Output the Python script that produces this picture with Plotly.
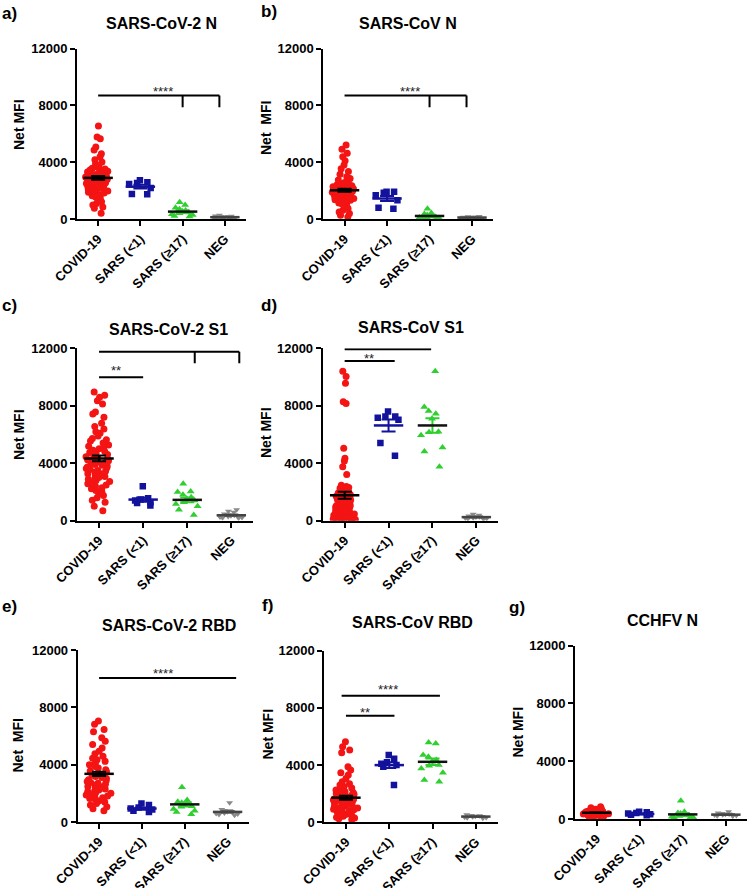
import plotly.graph_objects as go

W, H = 750, 888
CATS = ['COVID-19', 'SARS (<1)', 'SARS (≥17)', 'NEG']

# ---- values (Net MFI) ----
a_covid = [6550, 5780, 5660, 5080, 4870, 4610, 4400, 4180, 4020, 3890, 3760, 3680, 3590, 3540,
           3470, 3420, 3380, 3330, 3290, 3240, 3210, 3160, 3130, 3080, 3040, 3010, 2970, 2940,
           2910, 2880, 2850, 2820, 2790, 2750, 2720, 2690, 2660, 2620, 2590, 2550, 2520, 2480,
           2450, 2410, 2380, 2340, 2300, 2270, 2230, 2190, 2150, 2120, 2080, 2030, 1990, 1950,
           1900, 1850, 1790, 1730, 1660, 1560, 1470, 1360, 1240, 1110, 1000, 860, 770, 420]
a_sars1 = [2750, 2600, 2550, 2480, 2200, 1780, 1760]
a_sars17 = [1190, 1000, 820, 700, 620, 560, 480, 420, 350, 300, 240, 190]
a_neg = [280, 240, 220, 200, 190, 170, 160, 150, 140, 130, 120, 110, 100, 90, 70]
a_means = [2910, 2290, 540, 150]
a_sems = [140, 130, 90, 15]

b_covid = [5220, 4920, 4640, 4390, 4120, 3810, 3560, 3350, 3160, 2990, 2870, 2760, 2680, 2590,
           2520, 2480, 2430, 2400, 2360, 2320, 2290, 2260, 2230, 2200, 2170, 2140, 2110, 2090,
           2060, 2030, 2010, 1990, 1960, 1930, 1900, 1880, 1850, 1820, 1790, 1760, 1730, 1700,
           1670, 1640, 1610, 1570, 1540, 1500, 1460, 1420, 1380, 1330, 1270, 1210, 1150, 1080,
           990, 880, 760, 640, 520, 410, 290, 170]
b_sars1 = [1930, 1930, 1860, 1690, 1340, 820, 750]
b_sars17 = [750, 450, 380, 300, 260, 220, 180, 150, 120, 100, 80, 60]
b_neg = [200, 180, 170, 150, 140, 130, 120, 110, 100, 90, 80, 70, 60]
b_means = [2040, 1460, 235, 120]
b_sems = [100, 180, 60, 10]

c_covid = [8960, 8730, 8590, 8350, 8120, 7560, 7420, 7200, 6790, 6550, 6390, 6200, 6080, 5900,
           5730, 5640, 5550, 5400, 5270, 5180, 5080, 5000, 4910, 4820, 4750, 4680, 4600, 4520,
           4450, 4400, 4350, 4300, 4250, 4180, 4100, 4050, 3980, 3920, 3860, 3800, 3740, 3680,
           3630, 3560, 3500, 3450, 3390, 3320, 3260, 3200, 3160, 3080, 3000, 2940, 2880, 2800,
           2720, 2640, 2570, 2480, 2400, 2300, 2220, 2100, 1990, 1880, 1760, 1600, 1430, 1290,
           1000, 700]
c_sars1 = [2390, 1570, 1470, 1400, 1290, 1240, 1050]
c_sars17 = [2570, 2040, 1990, 1800, 1640, 1520, 1400, 1290, 1170, 1000, 770, 400]
c_neg = [770, 650, 585, 470, 420, 380, 350, 320, 290, 260, 230, 200, 180]
c_means = [4330, 1470, 1450, 380]
c_sems = [200, 150, 160, 50]

d_covid = [10410, 10040, 9570, 8280, 8160, 5050, 4350, 4160, 3760, 3220, 2470, 2380, 2310, 2260,
           2180, 2120, 2060, 1990, 1930, 1880, 1820, 1760, 1710, 1650, 1590, 1540, 1480, 1430,
           1370, 1320, 1270, 1210, 1160, 1110, 1060, 1010, 960, 910, 870, 820, 770, 730, 680,
           640, 590, 550, 500, 460, 420, 380, 340, 300, 260, 220, 190, 150, 120, 90, 60, 40,
           880, 640, 470, 310, 180, 110]
d_sars1 = [7600, 7260, 7260, 7170, 7030, 5410, 4520]
d_sars17 = [10410, 7920, 7640, 7450, 7100, 6200, 6160, 5950, 5100, 4820, 3760]
d_neg = [450, 380, 330, 300, 270, 250, 220, 200, 180, 160, 140, 120]
d_means = [1770, 6630, 6630, 250]
d_sems = [240, 420, 500, 30]

e_covid = [7050, 6820, 6460, 6300, 5880, 5640, 5400, 5170, 4940, 4760, 4580, 4450, 4350, 4230,
           4110, 4000, 3880, 3760, 3640, 3560, 3480, 3400, 3330, 3260, 3170, 3100, 3030, 2940,
           2880, 2820, 2760, 2700, 2640, 2580, 2520, 2470, 2420, 2360, 2300, 2230, 2180, 2120,
           2060, 2000, 1940, 1880, 1820, 1760, 1700, 1640, 1580, 1530, 1460, 1400, 1290, 1180,
           1060, 920, 780]
e_sars1 = [1290, 1180, 1010, 940, 870, 780, 705]
e_sars17 = [2420, 1530, 1410, 1350, 1290, 1180, 1100, 1060, 900, 780, 700, 540]
e_neg = [1340, 870, 800, 780, 720, 680, 630, 600, 560, 520, 470]
e_means = [3360, 940, 1230, 705]
e_sems = [150, 80, 140, 60]

f_covid = [5630, 5280, 5050, 4860, 3880, 3650, 3470, 3300, 3070, 2840, 2700, 2600, 2490, 2400,
           2330, 2260, 2200, 2140, 2080, 2020, 1970, 1920, 1870, 1820, 1770, 1720, 1680, 1640,
           1600, 1560, 1520, 1480, 1440, 1400, 1360, 1320, 1280, 1240, 1200, 1160, 1120, 1080,
           1040, 1000, 960, 920, 870, 820, 770, 720, 660, 600, 540, 480, 420, 360, 300, 240, 180]
f_sars1 = [4700, 4450, 4200, 4100, 4000, 3880, 2600]
f_sars17 = [5580, 5510, 4700, 4580, 4350, 4230, 4000, 3950, 3770, 3470, 2950, 2840]
f_neg = [520, 480, 450, 420, 400, 380, 360, 340, 310, 280]
f_means = [1720, 4000, 4230, 400]
f_sems = [140, 200, 230, 25]

g_covid = [850, 780, 720, 680, 650, 620, 600, 580, 560, 540, 520, 500, 490, 480, 470, 460, 450,
           440, 430, 420, 410, 400, 390, 380, 370, 360, 350, 340, 330, 320, 310, 300, 290, 280,
           260, 240, 220, 200, 180, 150, 120]
g_sars1 = [500, 460, 420, 380, 330, 300, 260]
g_sars17 = [1265, 500, 420, 380, 320, 280, 240, 200, 160, 120, 90, 60]
g_neg = [500, 420, 380, 350, 330, 310, 290, 270, 250, 220, 200]
g_means = [430, 350, 320, 300]
g_sems = [20, 30, 90, 25]

titles = ['SARS-CoV-2 N', 'SARS-CoV N', 'SARS-CoV-2 S1', 'SARS-CoV S1',
          'SARS-CoV-2 RBD', 'SARS-CoV RBD', 'CCHFV N']
letters = ['a)', 'b)', 'c)', 'd)', 'e)', 'f)', 'g)']
ylabels = ['Net MFI', 'Net\u00a0\u00a0MFI', 'Net MFI', 'Net MFI',
           'Net\u00a0\u00a0MFI', 'Net MFI', 'Net MFI']
y_ticks = [0, 4000, 8000, 12000]

groups = [[a_covid, a_sars1, a_sars17, a_neg], [b_covid, b_sars1, b_sars17, b_neg],
          [c_covid, c_sars1, c_sars17, c_neg], [d_covid, d_sars1, d_sars17, d_neg],
          [e_covid, e_sars1, e_sars17, e_neg], [f_covid, f_sars1, f_sars17, f_neg],
          [g_covid, g_sars1, g_sars17, g_neg]]
means = [a_means, b_means, c_means, d_means, e_means, f_means, g_means]
sems = [a_sems, b_sems, c_sems, d_sems, e_sems, f_sems, g_sems]

# significance brackets: (x0, x1, y, drop xs, drop to y) and star labels (x, y, text)
brackets = [
    [(0, 2.87, 8700, [2, 2.87], 7880)],
    [(0, 2.87, 8700, [2, 2.87], 7880)],
    [(0, 1, 9980, [], None), (0, 3.18, 11760, [2.17, 3.18], 10960)],
    [(0, 1.14, 11110, [], None), (0, 1.97, 11930, [], None)],
    [(0, 3.2, 10050, [], None)],
    [(0, 1.12, 7455, [], None), (-0.1, 2.17, 8850, [], None)],
    [],
]
stars = [
    [(1.54, 9000, '****')],
    [(1.54, 9000, '****')],
    [(0.39, 10420, '**'), (1.47, 12090, '****')],
    [(0.55, 11280, '**'), (1.0, 12370, '****')],
    [(1.49, 10350, '****')],
    [(0.45, 7710, '**'), (0.98, 9270, '****')],
    [],
]

# ---- layout (pixels) ----
# x of y-axis, x end of x-axis, y of top (12000), y of bottom (0)
geom = [(77, 246, 48.5, 219.3), (323.3, 493.3, 48.5, 219.3),
        (77, 253.4, 348.3, 520.7), (322.7, 498.3, 348.3, 520.7),
        (77.7, 249, 650, 822), (324.3, 497.5, 650.7, 822.3),
        (575, 747.4, 645.7, 819)]
title_pos = [(161, 23), (408, 23), (168, 329.5), (411, 327.5), (169, 625.5), (412, 622.5), (662, 620)]
letter_pos = [(0, 13), (259, 12), (0, 305.5), (259, 305.5), (0, 606.5), (260, 605.5), (507, 607)]
ylabel_pos = [(19, 125), (266, 128), (19, 435), (266, 433), (17.5, 746), (267.5, 734), (517.5, 732)]

COLORS = ['#f41414', '#12129c', '#2fcf2f', '#8a8a8a']
LINE_COLORS = ['black', '#12129c', '#111111', '#444444']
ERR_COLORS = ['black', '#12129c', '#2fcf2f', '#666666']
SYMBOLS = ['circle', 'square', 'triangle-up', 'triangle-down']
SIZES = [7, 6.5, 7, 6]
FONT = 'Liberation Sans, Arial, sans-serif'

fig = go.Figure()
shapes = []
annotations = []
layout = {}


def px(x):
    return x / W


def py(y):
    return 1 - y / H


for k in range(7):
    n = k + 1
    xa, ya = f'x{n}', f'y{n}'
    for gi, cat in enumerate(CATS):
        vals = groups[k][gi]
        fig.add_trace(go.Box(
            x=[cat] * len(vals), y=vals, xaxis=xa, yaxis=ya,
            boxpoints='all', jitter=0.9, pointpos=0, width=0.7,
            fillcolor='rgba(0,0,0,0)', line=dict(color='rgba(0,0,0,0)', width=0),
            marker=dict(color=COLORS[gi], size=SIZES[gi], symbol=SYMBOLS[gi]),
            hoverinfo='skip', showlegend=False))
    for gi, cat in enumerate(CATS):
        fig.add_trace(go.Scatter(
            x=[cat], y=[means[k][gi]], xaxis=xa, yaxis=ya, mode='markers',
            marker=dict(symbol='line-ew', size=21, line=dict(color=LINE_COLORS[gi], width=2.5)),
            error_y=dict(type='data', array=[sems[k][gi]], color=ERR_COLORS[gi],
                         thickness=2, width=7),
            cliponaxis=False, hoverinfo='skip', showlegend=False))

    x0, x1, yt, yb = geom[k]
    axis_font = dict(family=FONT, size=13, color='black', weight='bold')
    layout[f'xaxis{n}'] = dict(
        domain=[px(x0), min(px(x1), 1)], anchor=ya, type='category', automargin=False,
        categoryorder='array', categoryarray=CATS, range=[-0.5, 3.5],
        showline=True, linecolor='black', linewidth=2, ticks='outside', ticklen=5,
        tickwidth=2, tickcolor='black', tickangle=-45, showgrid=False, zeroline=False,
        tickfont=axis_font)
    layout[f'yaxis{n}'] = dict(
        domain=[py(yb), py(yt)], anchor=xa, range=[0, 12000], tickvals=y_ticks,
        tickformat='d', automargin=False,
        showline=True, linecolor='black', linewidth=2, ticks='outside', ticklen=5,
        tickwidth=2, tickcolor='black', showgrid=False, zeroline=False,
        tickfont=axis_font)

    for bx0, bx1, by, drops, dy in brackets[k]:
        shapes.append(dict(type='line', xref=xa, yref=ya, x0=bx0, x1=bx1, y0=by, y1=by,
                           line=dict(color='black', width=2)))
        for dx in drops:
            shapes.append(dict(type='line', xref=xa, yref=ya, x0=dx, x1=dx, y0=by, y1=dy,
                               line=dict(color='black', width=2)))
    for sx, sy, txt in stars[k]:
        annotations.append(dict(xref=xa, yref=ya, x=sx, y=sy, text=txt, showarrow=False,
                                font=dict(family=FONT, size=13, color='#222222')))

    tx, ty = title_pos[k]
    annotations.append(dict(xref='paper', yref='paper', x=px(tx), y=py(ty), text=titles[k],
                            showarrow=False, xanchor='center', yanchor='middle',
                            font=dict(family=FONT, size=16, color='black', weight='bold')))
    lx, ly = letter_pos[k]
    annotations.append(dict(xref='paper', yref='paper', x=px(lx), y=py(ly), text=letters[k],
                            showarrow=False, xanchor='left', yanchor='middle',
                            font=dict(family=FONT, size=17, color='black', weight='bold')))
    ax_, ay_ = ylabel_pos[k]
    annotations.append(dict(xref='paper', yref='paper', x=px(ax_), y=py(ay_), text=ylabels[k],
                            showarrow=False, textangle=-90, xanchor='center', yanchor='middle',
                            font=dict(family=FONT, size=14, color='black', weight='bold')))

fig.update_layout(
    template='none', width=W, height=H, margin=dict(l=0, r=0, t=0, b=0, autoexpand=False),
    paper_bgcolor='white', plot_bgcolor='white', showlegend=False,
    boxmode='overlay', shapes=shapes, annotations=annotations, **layout)

# drop the page's default body margin so the figure fills the window exactly
fig.write_html('out.html', config={'displayModeBar': False},
               post_script="document.body.style.margin = '0';")
